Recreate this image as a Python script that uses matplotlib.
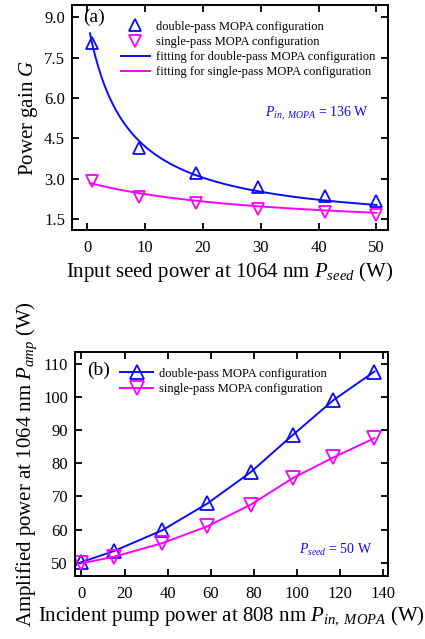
import numpy as np
import matplotlib
matplotlib.use('Agg')
import matplotlib.pyplot as plt
from matplotlib.lines import Line2D

plt.rcParams['font.family'] = 'Liberation Serif'
plt.rcParams['mathtext.fontset'] = 'custom'
plt.rcParams['mathtext.rm'] = 'Liberation Serif'
plt.rcParams['mathtext.it'] = 'Liberation Serif:italic'

# (a) power gain vs seed power
seed_power = [0.8, 8.9, 18.9, 29.5, 41.2, 50.0]
gain_double = [8.05, 4.13, 3.23, 2.69, 2.35, 2.16]
gain_single = [2.90, 2.32, 2.10, 1.88, 1.76, 1.67]

# fitted curves
fit_x = [0.5, 9, 19, 29.5, 41, 50]
fit_double = [8.4, 4.4, 3.12, 2.55, 2.2, 2.02]
fit_single = [2.85, 2.45, 2.18, 2.0, 1.84, 1.72]

# (b) amplified power vs pump power
pump_power = [0, 15, 37.5, 58.5, 78.5, 98, 117, 136]
amp_double = [50.2, 53.5, 59.8, 67.9, 77.3, 88.5, 99.1, 107.7]
amp_single = [49.8, 51.8, 55.9, 61.0, 67.5, 75.5, 81.8, 87.6]

blue = '#0a0aff'
mag = '#ff00ff'


def fit_hyper(x, y):
    # G = a/(x+b) + c, grid over b, linear least squares for a, c
    x = np.asarray(x, float); y = np.asarray(y, float)
    best = None
    for b in np.linspace(0.05, 60, 3000):
        A = np.vstack([1.0 / (x + b), np.ones_like(x)]).T
        coef, *_ = np.linalg.lstsq(A, y, rcond=None)
        err = np.sum((A @ coef - y) ** 2)
        if best is None or err < best[0]:
            best = (err, b, coef)
    _, b, (a, c) = best
    return lambda t: a / (t + b) + c


fig = plt.figure(figsize=(4.25, 6.39), dpi=100)

# ---- panel (a)
ax1 = fig.add_axes([72/425, 1 - 230/639, 316/425, 225/639])
xs = np.linspace(0.5, 50, 300)
f_d = fit_hyper(fit_x, fit_double)
f_s = fit_hyper(fit_x, fit_single)
ax1.plot(xs, f_d(xs), color=blue, lw=1.4)
ax1.plot(xs, f_s(xs), color=mag, lw=1.4)
ax1.plot(seed_power, gain_double, '^', mfc='none', mec=blue, ms=9, mew=1.3)
ax1.plot(seed_power, gain_single, 'v', mfc='none', mec=mag, ms=9, mew=1.3)
ax1.set_xlim(-2.6, 52)
ax1.set_ylim(1.1, 9.45)
ax1.set_xticks([0, 10, 20, 30, 40, 50])
ax1.set_yticks([1.5, 3.0, 4.5, 6.0, 7.5, 9.0])
ax1.set_yticklabels(['1.5', '3.0', '4.5', '6.0', '7.5', '9.0'])
ax1.set_xlabel(r'Input seed power at 1064 nm $P_{seed}$ (W)', fontsize=15, labelpad=3)
ax1.set_ylabel(r'Power gain $G$', fontsize=15, labelpad=3)
ax1.text(0.035, 0.985, '(a)', transform=ax1.transAxes, fontsize=14, va='top')
ax1.text(0.94, 0.515, r'$P_{in,\ MOPA}$ = 136 W', transform=ax1.transAxes,
         fontsize=10, color=blue, ha='right', va='center')
handles = [
    Line2D([], [], ls='none', marker='^', mfc='none', mec=blue, ms=8, mew=1.3),
    Line2D([], [], ls='none', marker='v', mfc='none', mec=mag, ms=8, mew=1.3),
    Line2D([], [], color=blue, lw=1.4),
    Line2D([], [], color=mag, lw=1.4),
]
labels = ['double-pass MOPA configuration', 'single-pass MOPA configuration',
          'fitting for double-pass MOPA configuration',
          'fitting for single-pass MOPA configuration']
ax1.legend(handles, labels, loc='upper left', frameon=False, fontsize=9,
           handlelength=2.3, handletextpad=0.5, labelspacing=0.25,
           borderaxespad=0.0, borderpad=0.0, bbox_to_anchor=(0.155, 0.93))

# ---- panel (b)
ax2 = fig.add_axes([75/425, 1 - 576/639, 313/425, 224/639])
ax2.plot(pump_power, amp_double, '-^', color=blue, mfc='none', mec=blue,
         ms=10, mew=1.3, lw=1.4, label='double-pass MOPA configuration')
ax2.plot(pump_power, amp_single, '-v', color=mag, mfc='none', mec=mag,
         ms=10, mew=1.3, lw=1.4, label='single-pass MOPA configuration')
ax2.set_xlim(-3, 142.3)
ax2.set_ylim(46, 113.6)
ax2.set_xticks(range(0, 141, 20))
ax2.set_yticks(range(50, 111, 10))
ax2.set_xlabel(r'Incident pump power at 808 nm $P_{in,\ MOPA}$ (W)', fontsize=15, labelpad=2)
ax2.set_ylabel(r'Amplified power at 1064 nm $P_{amp}$ (W)', fontsize=15, labelpad=3)
ax2.text(0.04, 0.955, '(b)', transform=ax2.transAxes, fontsize=14, va='top')
ax2.text(0.95, 0.115, r'$P_{seed}$ = 50 W', transform=ax2.transAxes,
         fontsize=10, color=blue, ha='right', va='center')
ax2.legend(loc='upper left', frameon=False, fontsize=9, handlelength=2.6,
           handletextpad=0.5, labelspacing=0.3, borderaxespad=0.0,
           borderpad=0.0, bbox_to_anchor=(0.145, 0.93))

for ax in (ax1, ax2):
    ax.tick_params(direction='in', top=True, right=True, length=5, width=1.3,
                   labelsize=12, pad=7)
    ax.tick_params(axis='y', pad=5)
    for s in ax.spines.values():
        s.set_linewidth(1.4)

fig.savefig('out.png', dpi=100)
